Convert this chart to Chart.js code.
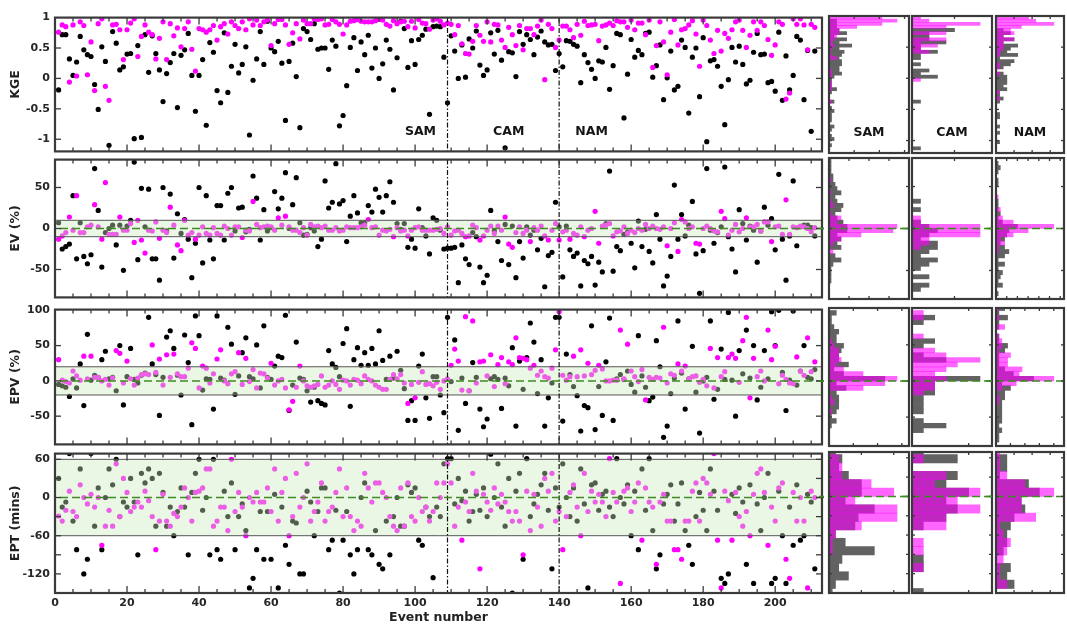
<!DOCTYPE html>
<html>
<head>
<meta charset="utf-8">
<script src="https://cdn.jsdelivr.net/npm/chart.js@4.4.1/dist/chart.umd.min.js"></script>
<style>
html, body { margin: 0; padding: 0; background: #fff; }
#wrap { position: relative; width: 1067px; height: 625px; overflow: hidden; background: #fff; }
#wrap canvas { position: absolute; }
</style>
</head>
<body>
<div id="wrap"></div>
<script>
// region split and axis ticks
const regionNames = ['SAM', 'CAM', 'NAM'];
const dividers = [109, 140];
const xLabels = [0, 20, 40, 60, 80, 100, 120, 140, 160, 180, 200];
const kgeTicks = [-1, -0.5, 0, 0.5, 1];
const evTicks = [-50, 0, 50];
const epvTicks = [-50, 0, 50, 100];
const eptTicks = [-120, -90, -60, -30, 0, 30, 60];
const eptLabels = [-120, -60, 0, 60];

// KGE, black = model A, magenta = model B (events 1..211)
const kgeBlack = [
-0.19, 0.72, 0.72, 0.32, 0.05, 0.27, 0.69, 0.47, 0.39, 0.36,
-0.10, -0.51, 0.52, 0.28, -1.10, 0.77, 0.58, 0.14, 0.19, 0.40,
0.41, -0.99, 0.54, -0.97, 0.72, 0.10, 0.70, 0.41, 0.14, -0.38,
0.08, 0.26, 0.41, -0.48, 0.38, 0.47, 0.74, 0.05, -0.54, 0.05,
0.31, -0.77, 0.59, 0.43, -0.20, -0.40, 0.75, -0.23, 0.20, 0.56,
0.09, 0.23, 0.52, -0.93, -0.03, 0.32, 0.77, 0.23, 0.94, 0.50,
0.44, 0.61, 0.25, -0.69, 0.28, 0.58, 0.03, -0.81, 0.82, 0.77,
0.64, 0.90, 0.48, 0.50, 0.50, 0.15, 0.63, 0.53, -0.78, -0.61,
-0.12, 0.51, 0.67, 0.13, 0.60, 0.39, 0.71, 0.17, 0.50, 0.00,
0.24, 0.63, 0.48, -0.19, 0.34, 0.94, 0.82, 0.18, 0.62, 0.23,
0.64, 0.71, 0.81, -0.59, 0.85, 0.86, 0.85, 0.35, -0.40, 0.70,
0.45, 0.00, 0.55, 0.02, 0.65, 0.50, 0.78, 0.22, 0.05, 0.14,
0.75, 0.40, 0.79, 0.30, -1.14, 0.44, 0.42, 0.03, 0.77, 0.56,
0.72, 0.64, 0.39, 0.68, 0.78, 0.60, 0.55, 0.56, 0.13, 0.41,
0.19, 0.62, 0.61, 0.56, 0.53, -0.07, 0.39, 0.26, 0.15, 0.00,
0.29, 0.27, 0.51, -0.18, 0.21, 0.74, 0.72, -0.65, 0.07, 0.64,
0.35, 0.46, 0.39, 0.74, 0.76, 0.02, 0.21, 0.55, -0.35, 0.01,
0.45, -0.19, -0.13, 0.63, 0.51, -0.57, 0.35, 0.50, -0.30, 0.67,
-1.04, 0.29, 0.31, 0.20, -0.13, -0.76, -0.02, 0.51, 0.27, 0.53,
0.23, -0.09, -0.03, 0.43, 0.74, 0.39, 0.40, -0.07, -0.05, -0.21,
0.76, -0.36, 0.37, -0.19, 0.05, 0.69, 0.63, -0.35, 0.46, -0.87, 0.45
];
const kgeMag = [
0.76, 0.88, 0.85, -0.06, 0.88, 0.04, 0.93, 0.87, 0.06, 0.60,
-0.20, 0.90, 0.98, -0.13, -0.36, 0.88, 0.89, 0.80, 0.31, 0.80,
0.91, 0.98, 0.36, 0.69, 0.88, 0.76, 0.72, 0.32, 0.66, 0.93,
0.31, 0.90, 0.70, 0.83, 0.52, 0.82, 0.93, 0.48, 0.12, 0.82,
0.80, 0.76, 0.80, 0.87, 0.63, 0.85, 0.90, 0.73, 0.93, 0.87,
0.82, 0.93, 0.80, 0.98, 0.88, 0.96, 0.87, 0.93, 0.96, 0.54,
0.90, 0.97, 0.97, 0.88, 0.56, 0.75, 0.90, 0.65, 0.96, 0.90,
0.90, 0.98, 0.97, 0.98, 0.88, 0.89, 0.97, 0.93, 0.89, 0.73,
0.88, 0.94, 0.95, 0.97, 0.94, 0.93, 0.93, 0.93, 0.95, 0.97,
0.96, 0.89, 0.86, 0.95, 0.90, 0.93, 0.94, 0.85, 0.94, 0.83,
0.97, 0.91, 0.90, 0.81, 0.96, 0.98, 0.94, 0.88, 0.91, 0.89,
0.72, 0.87, 0.57, 0.41, 0.40, 0.61, 0.87, 0.71, 0.61, 0.93,
0.60, 0.89, 0.88, 0.63, 0.51, 0.84, 0.72, 0.54, 0.87, 0.47,
0.82, 0.82, 0.72, 0.86, 0.96, -0.02, 0.89, 0.82, 0.51, 0.63,
0.86, 0.86, 0.80, 0.67, 0.89, 0.71, 0.94, 0.87, 0.88, 0.89,
0.62, 0.86, 0.88, 0.91, 0.87, 0.95, 0.93, 0.93, 0.84, 0.96,
0.80, 0.91, 0.91, 0.72, 0.96, 0.18, 0.54, 0.93, 0.60, 0.06,
0.76, 0.97, 0.55, 0.80, 0.82, 0.88, 0.95, 0.73, 0.20, 0.96,
0.87, 0.63, 0.41, 0.79, 0.45, 0.74, 0.66, 0.80, 0.93, 0.96,
0.79, 0.51, 0.71, 0.93, 0.79, 0.93, 0.87, 0.64, 0.38, 0.55,
0.93, 0.89, -0.34, -0.24, 0.98, 0.89, 0.98, 0.88, 0.47, 0.89, 0.84
];

// EV (%)
const evBlack = [
7, -25, -22, -19, 40, -37, 7, -34, -43, -32,
73, 22, -47, -5, 0, 4, -20, 4, -51, 3,
10, 81, -38, 49, 2, 48, -37, -37, -63, 50,
-3, 42, -36, 18, -6, 11, -13, -60, -18, 50,
-42, 40, -14, -37, 28, 28, -14, 43, 50, -3,
25, 26, -4, -1, 64, 37, -14, 23, -3, 1,
45, 24, 37, 68, 0, 29, 62, 7, -8, -7,
1, -3, -22, -13, 58, 25, 32, 79, 30, 34,
-16, 15, 40, 19, 7, 7, 28, 20, 48, 38,
20, 40, 57, 32, 6, -1, 6, -23, -13, -24,
24, 1, -9, -31, 13, 10, -2, -25, -24, -24,
-23, -66, -20, -37, -44, -5, -10, -47, -66, -57,
22, -3, -16, -39, 5, -44, 3, -60, -16, -36,
2, -8, -2, -26, -12, -71, -33, -29, 32, 2,
-59, 3, -26, -34, -30, -70, -39, -43, -34, -69,
-41, -53, 6, 70, -52, -22, -27, -7, -4, -18,
-48, 9, -22, -1, -28, -42, 17, -13, -70, -58,
-34, 53, -13, 17, -9, 4, 33, -31, -79, -27,
73, -2, -18, -5, 2, 75, -10, -25, -53, 23,
6, -14, 3, -2, -41, -3, 26, 4, 12, -26,
66, -13, -63, -9, 58, -21, 2, 4, 4, 1, -9
];
const evMag = [
-13, -9, -5, 14, -2, 40, -5, -5, 2, 4,
29, 2, -13, 56, -7, -7, -7, 14, -2, -2,
6, -17, 10, -14, -30, -2, -3, 8, -12, -2,
-5, 26, 4, -20, -27, 10, -8, -5, -13, -8,
2, -6, -8, 1, -6, -8, 3, 0, -8, 2,
2, -11, -2, -3, 33, 5, 1, 2, 3, 2,
-2, 13, 4, 15, 2, -2, -2, -5, 1, -8,
5, 2, 3, 1, 3, -2, -2, 1, -3, -2,
2, 1, 1, 1, 2, 4, 11, 1, 2, -8,
-2, -3, -1, -10, 1, -3, -2, -9, -2, 1,
2, -2, -2, -2, -2, -1, 0, -6, 2, -8,
-3, -2, -6, -10, -9, 4, 1, -14, -9, -2,
3, -6, 3, -2, 14, -19, -23, -5, 2, -6,
-2, -16, 1, -2, 3, -9, -14, -2, 6, -14,
-4, -2, -13, -6, -8, 2, -10, -2, 0, 21,
-18, 3, 4, 6, -9, -4, -3, 2, -6, -2,
-5, 0, -2, 5, 0, 3, 0, -1, 2, -21,
0, 7, -28, 11, 8, 0, 2, -18, -19, 0,
3, 0, -3, -4, 21, 12, -8, -2, 5, -4,
0, 13, 2, 2, 5, -3, 8, 8, -16, 2,
3, -7, 35, -7, 2, 1, 3, 2, 0, -4, 1
];

// EPV (%)
const epvBlack = [
-5, -7, -9, -22, 3, -10, 24, -35, 66, 1,
8, 5, 30, 42, 3, 5, -14, 50, -34, 6,
46, 2, -3, 8, 11, 90, 24, 9, -49, 5,
62, 71, 46, 8, -20, 65, 26, -62, 92, 64,
-13, 3, 2, -40, 92, 4, 1, 76, 52, -19,
7, 40, 61, 6, 3, 51, -10, 78, 5, 2,
21, 35, 33, 93, -42, -6, 55, 4, 2, -14,
-30, -9, -28, -32, -34, 43, 24, 19, 6, 53,
74, -36, 30, 47, 22, 40, 22, 46, 24, 71,
29, 2, 35, 4, 42, 15, -11, -56, -28, -56,
21, 38, -24, -53, 6, 6, -20, -45, 90, -1,
58, -70, 4, -32, -14, 26, 5, -40, -65, -54,
3, 6, 2, -39, 4, -7, 47, -64, 28, -12,
33, 82, 55, -18, 30, -64, -24, -3, 90, 90,
-57, 38, 9, -8, -21, -71, -35, -38, 78, -69,
-8, -49, 27, 89, -56, 3, 9, 2, 14, -5,
-16, 64, 7, -9, -28, -23, 57, 20, -80, -64,
-18, 4, 85, 11, -40, 3, 49, -16, -74, 0,
5, 85, -26, -12, 45, 2, 97, 1, -50, 43,
10, 72, 4, 50, -27, -9, 43, 3, 98, 50,
100, 12, -42, 1, 99, -6, 14, 50, 5, 3, 16
];
const epvMag = [
30, 1, -1, -3, 14, 7, 1, 35, 3, 35,
5, 5, 0, 2, -6, 4, 43, 39, -3, 28,
3, -6, 4, 9, 10, 9, 51, 12, 31, -6,
37, 5, 38, 10, 6, 6, 18, 54, 46, -10,
21, 18, -3, 10, 31, 44, 0, -4, 10, 13,
40, -5, 32, -1, 16, -10, 11, 10, 4, 25,
-6, 0, 2, -10, -41, -29, -9, 21, 0, -7,
-9, -7, -5, 7, -9, -6, 0, -5, -12, 1,
0, -6, 2, 1, -4, 7, 2, 0, -6, -9,
-12, -12, 2, 9, 3, 9, -3, -32, -5, -24,
-2, 13, -5, -4, -7, -2, -12, 0, 3, 22,
45, 28, -13, 91, -14, 85, -3, 27, 28, 7,
37, -8, 23, 33, -4, 27, 23, 61, 33, 32,
30, 18, 22, 8, 14, 6, 4, 18, 44, 98,
8, 1, 6, 35, 6, 44, 7, 25, 9, 15,
22, 17, 0, 0, 1, 1, 72, 3, 52, 14,
6, -1, 16, -27, 5, 2, 5, 4, 76, -3,
10, 8, 24, 14, 21, 3, 6, 7, -2, 2,
-7, 46, -10, 33, 6, 13, 33, 38, 32, -2,
57, 90, -24, 32, 6, 14, 0, 72, 30, 49,
-4, 8, 2, -3, -4, 34, 14, 8, 61, 13, 27
];

// EPT (mins)
const eptBlack = [
30, -15, -7, 69, -37, -82, 45, -120, -97, 69,
-45, 15, -82, 0, 45, 20, 60, -30, -7, -15,
30, -7, -90, 38, 23, 45, 30, -45, 38, 8,
-45, -15, -60, -22, 15, -15, -90, 8, 38, 60,
-20, 0, -90, 60, -82, -97, 10, -30, 23, -82,
-30, -10, -52, -142, -127, -82, -22, -97, -22, -97,
5, -142, -15, -75, -105, -37, -40, -120, -120, 10,
-7, -60, -22, 15, 15, -82, -67, -20, -150, -67,
-22, -90, -120, -82, 0, 23, -82, -90, -52, -105,
-112, -37, -90, -30, 0, -45, -45, 20, 8, 15,
-67, -75, -15, -30, -126, -15, -30, 53, 61, 61,
-10, 30, -5, 10, -37, -22, 5, -20, 15, -30,
68, 0, 53, -15, -45, 30, -150, 10, 38, -97,
61, -30, -10, 5, 20, 38, -20, -112, 15, -15,
53, 0, -30, 15, -37, 45, -10, -142, 20, 23,
-20, 5, 10, -15, -30, 61, 0, -10, 20, -60,
10, -82, 45, -20, 61, -52, -112, -90, -10, 5,
20, -37, -10, 23, -52, -75, -105, -30, 8, -20,
-52, 45, 10, -20, -127, -135, -120, 5, -25, 15,
-7, -105, 20, -135, -10, -52, 0, 38, -135, -127,
10, -60, -135, -15, -75, 20, -67, -60, 5, -7, -112
];
const eptMag = [
-29, -37, -20, 10, -22, -30, 20, 0, -10, 5,
-15, 0, -75, -45, -20, -45, 53, -30, 30, 8,
-22, -15, -7, -15, 10, -5, -30, -82, -37, 5,
-37, -45, -25, -30, -15, 15, 0, -37, 8, 10,
15, 45, 45, -45, -37, -15, -15, -52, 60, -22,
8, -15, -60, 0, -7, 8, -7, -7, 15, -22,
45, -37, 8, 30, -60, -30, 38, -15, 0, 53,
-37, -22, -7, 23, -37, -22, -15, 8, 45, -30,
15, -30, -52, -37, -45, 38, 15, -7, 23, 23,
8, 0, -30, -45, -52, 15, -45, 23, -30, -37,
0, -22, -15, -37, -22, 23, 0, 23, 53, 23,
-45, -15, -67, -7, -22, 38, 10, -112, 5, -7,
-20, 15, -10, 5, -7, -22, -37, -22, -37, -90,
10, -52, 5, -15, -45, 30, 10, 38, -37, -22,
-82, -30, 8, 20, -15, -60, 38, -22, 10, -7,
5, -7, -30, 61, 8, -7, -135, 10, 15, -22,
-7, 23, -67, 15, -7, -15, -105, -7, 5, -37,
-37, -82, -82, -97, -37, -37, 10, 23, -37, 30,
23, 5, 69, -67, -142, 10, -5, -67, 8, -30,
-45, -22, -60, 5, 38, 45, 8, -75, -15, -37,
15, 23, -97, -127, 8, -37, 0, -37, -142, 10, 0
];

const events = kgeBlack.map((_, i) => i + 1);

Chart.defaults.font.family = "'DejaVu Sans', sans-serif";
Chart.defaults.font.size = 11;
Chart.defaults.font.weight = 'bold';
Chart.defaults.color = '#262626';

const rows = [
  {title: 'KGE', black: kgeBlack, mag: kgeMag, min: -1.2, max: 1.0, ticks: kgeTicks, labels: kgeTicks,
   band: null, zero: false, bin: [-1.2, 0.05, 44], top: 16, bottom: 153},
  {title: 'EV (%)', black: evBlack, mag: evMag, min: -84, max: 84, ticks: evTicks, labels: evTicks,
   band: [-10, 10], zero: true, bin: [-85, 5, 34], top: 158, bottom: 299},
  {title: 'EPV (%)', black: epvBlack, mag: epvMag, min: -90, max: 101, ticks: epvTicks, labels: epvTicks,
   band: [-20, 20], zero: true, bin: [-91, 6.5, 30], top: 308, bottom: 446},
  {title: 'EPT (mins)', black: eptBlack, mag: eptMag, min: -150, max: 69, ticks: eptTicks, labels: eptLabels,
   band: [-60, 60], zero: true, bin: [-156, 13, 18], top: 452, bottom: 593}
];
const cols = [
  {left: 829, w: 80, step: 10},
  {left: 912, w: 80, step: 5},
  {left: 996, w: 68, step: 5}
];

const wrap = document.getElementById('wrap');
function addCanvas(left, top, w, h) {
  const c = document.createElement('canvas');
  c.width = w; c.height = h;
  c.style.left = left + 'px'; c.style.top = top + 'px';
  c.style.width = w + 'px'; c.style.height = h + 'px';
  wrap.appendChild(c);
  return c;
}

function regionOf(ev) {
  if (ev < dividers[0]) return 0;
  if (ev < dividers[1]) return 1;
  return 2;
}

function binCounts(vals, start, w, n) {
  const c = new Array(n).fill(0);
  vals.forEach(v => {
    const k = Math.floor((v - start) / w + 1e-9);
    if (k >= 0 && k < n) c[k]++;
  });
  return c;
}

// frame, inward ticks, band, zero line, dividers, labels
const decor = {
  id: 'decor',
  afterDatasetsDraw(chart, args, o) {
    const ctx = chart.ctx, a = chart.chartArea;
    const x = chart.scales.x, y = chart.scales.y;
    const seg = (x1, y1, x2, y2) => { ctx.beginPath(); ctx.moveTo(x1, y1); ctx.lineTo(x2, y2); ctx.stroke(); };
    ctx.save();
    if (o.band) {
      const yt = y.getPixelForValue(o.band[1]), yb = y.getPixelForValue(o.band[0]);
      ctx.fillStyle = 'rgba(205,235,190,0.4)';
      ctx.fillRect(a.left, yt, a.right - a.left, yb - yt);
      ctx.strokeStyle = '#555';
      ctx.lineWidth = 1;
      seg(a.left, yt, a.right, yt);
      seg(a.left, yb, a.right, yb);
    }
    if (o.dividers) {
      ctx.strokeStyle = '#111';
      ctx.lineWidth = 1.2;
      ctx.setLineDash([5, 2, 1.5, 2]);
      o.dividers.forEach(v => { const px = x.getPixelForValue(v); seg(px, a.top, px, a.bottom); });
      ctx.setLineDash([]);
    }
    if (o.zero) {
      const py = y.getPixelForValue(0);
      const x0 = o.zeroFull ? 0 : a.left;
      ctx.strokeStyle = '#3f8a22';
      ctx.lineWidth = 1.5;
      ctx.setLineDash([8, 4]);
      ctx.lineDashOffset = o.pageLeft + x0;
      seg(x0, py, chart.width, py);
      ctx.setLineDash([]);
    }
    ctx.strokeStyle = '#3a3a3a';
    ctx.lineWidth = 1.3;
    (o.xTicks || []).forEach(t => {
      const px = x.getPixelForValue(t.v);
      if (px < a.left + 1 || px > a.right - 1) return;
      seg(px, a.bottom, px, a.bottom - t.len);
      seg(px, a.top, px, a.top + t.len);
    });
    (o.yTicks || []).forEach(v => {
      const py = y.getPixelForValue(v);
      if (py < a.top + 1 || py > a.bottom - 1) return;
      seg(a.left, py, a.left + o.yLen, py);
      seg(a.right, py, a.right - o.yLen, py);
    });
    ctx.lineWidth = 2.2;
    ctx.strokeRect(a.left, a.top, a.right - a.left, a.bottom - a.top);
    if (o.labels) {
      ctx.fillStyle = '#151515';
      ctx.font = "bold 12.5px 'DejaVu Sans', sans-serif";
      ctx.textAlign = 'center';
      ctx.textBaseline = 'middle';
      o.labels.forEach(l => {
        const px = l.x == null ? (a.left + a.right) / 2 : x.getPixelForValue(l.x);
        ctx.fillText(l.text, px, y.getPixelForValue(l.y));
      });
    }
    ctx.restore();
  }
};

const mainXTicks = [];
for (let v = 5; v < 213; v += 5) mainXTicks.push({v: v, len: v % 20 === 0 ? 7 : 4});

// main scatter panels
rows.forEach((r, ri) => {
  const last = ri === rows.length - 1;
  const h = r.bottom - r.top;
  const c = addCanvas(0, r.top - 10, 826, h + 10 + (last ? 32 : 10));
  new Chart(c, {
    type: 'scatter',
    data: {
      datasets: [
        {data: events.map((e, i) => ({x: e, y: r.black[i]})), backgroundColor: '#000000', order: 2},
        {data: events.map((e, i) => ({x: e, y: r.mag[i]})), backgroundColor: '#ff00ff', order: 1}
      ]
    },
    options: {
      responsive: false,
      animation: false,
      events: [],
      layout: {padding: {top: 10, right: 4, bottom: last ? 0 : 10, left: 0}},
      elements: {point: {radius: 2.6, borderWidth: 0, hoverRadius: 0}},
      plugins: {
        legend: {display: false},
        tooltip: {enabled: false},
        decor: {
          band: r.band, zero: r.zero, zeroFull: false, pageLeft: 0,
          dividers: dividers, xTicks: mainXTicks, yTicks: r.ticks, yLen: 6,
          labels: ri === 0 ? [
            {text: 'SAM', x: 101.5, y: -0.87},
            {text: 'CAM', x: 126, y: -0.87},
            {text: 'NAM', x: 149, y: -0.87}
          ] : null
        }
      },
      scales: {
        x: {
          type: 'linear', min: 0, max: 213, display: last,
          afterBuildTicks: s => { s.ticks = xLabels.map(v => ({value: v})); },
          afterFit: s => { if (last) s.height = 32; },
          grid: {display: false, drawTicks: false},
          border: {display: false},
          ticks: {autoSkip: false, maxRotation: 0, padding: 4},
          title: {display: true, text: 'Event number', color: '#222',
                  font: {size: 12.5, weight: 'bold'}, padding: 0}
        },
        y: {
          type: 'linear', min: r.min, max: r.max,
          afterBuildTicks: s => { s.ticks = r.labels.map(v => ({value: v})); },
          afterFit: s => { s.width = 55; },
          grid: {display: false, drawTicks: false},
          border: {display: false},
          ticks: {padding: 5, callback: v => String(v)},
          title: {display: true, text: r.title, color: '#222',
                  font: {size: 12.5, weight: 'bold'}, padding: {top: 8, bottom: 0}}
        }
      }
    },
    plugins: [decor]
  });
});

// marginal histograms per region
rows.forEach((r, ri) => {
  const [b0, bw, nb] = r.bin;
  const centers = Array.from({length: nb}, (_, k) => b0 + bw * (k + 0.5));
  const h = r.bottom - r.top;
  cols.forEach((col, ci) => {
    const pick = arr => arr.filter((_, i) => regionOf(events[i]) === ci);
    const cb = binCounts(pick(r.black), b0, bw, nb);
    const cm = binCounts(pick(r.mag), b0, bw, nb);
    const xmax = Math.max(...cb, ...cm) / 0.85;
    const xt = [];
    for (let v = col.step; v < xmax; v += col.step) xt.push({v: v, len: 3});
    const c = addCanvas(col.left - 10, r.top - 10, col.w + 20, h + 20);
    new Chart(c, {
      type: 'bar',
      data: {
        datasets: [
          {data: centers.map((y, k) => ({y: y, x: cb[k] || null})), backgroundColor: '#626262', order: 2},
          {data: centers.map((y, k) => ({y: y, x: cm[k] || null})), backgroundColor: 'rgba(255,0,255,0.6)', order: 1}
        ]
      },
      options: {
        indexAxis: 'y',
        responsive: false,
        animation: false,
        events: [],
        layout: {padding: 10},
        datasets: {bar: {grouped: false, barPercentage: 1, categoryPercentage: 1, borderWidth: 0}},
        plugins: {
          legend: {display: false},
          tooltip: {enabled: false},
          decor: {
            zero: r.zero, zeroFull: true, pageLeft: col.left - 10,
            xTicks: xt, yTicks: r.ticks, yLen: 3,
            labels: ri === 0 ? [{text: regionNames[ci], y: -0.87}] : null
          }
        },
        scales: {
          x: {type: 'linear', min: 0, max: xmax, display: false},
          y: {type: 'linear', min: r.min, max: r.max, offset: false, display: false,
              afterBuildTicks: s => { s.ticks = r.ticks.map(v => ({value: v})); }}
        }
      },
      plugins: [decor]
    });
  });
});
</script>
</body>
</html>
